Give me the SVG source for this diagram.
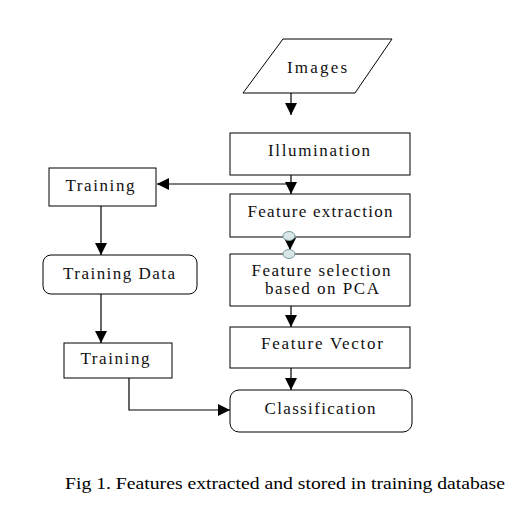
<svg xmlns="http://www.w3.org/2000/svg" width="516" height="519" viewBox="0 0 516 519">
<defs>
<style>
.box{fill:#fff;stroke:#000;stroke-width:1}
.t{font-family:"Liberation Serif","Times New Roman","DejaVu Serif",serif;font-size:17px;fill:#111;text-anchor:middle}
.c{fill:none;stroke:#000;stroke-width:1.2}
.knob{fill:#d8e6e8;stroke:#7a9aa0;stroke-width:1}
</style>
<marker id="ah" markerUnits="userSpaceOnUse" markerWidth="12" markerHeight="12" viewBox="0 0 10 10" refX="10" refY="5" orient="auto">
<path d="M0,0 L10,5 L0,10 z" fill="#000"/>
</marker>
</defs>
<rect width="516" height="519" fill="#fff"/>
<g id="connectors">
<line class="c" x1="291" y1="93" x2="291" y2="115" marker-end="url(#ah)"/>
<line class="c" x1="291" y1="175" x2="291" y2="194" marker-end="url(#ah)"/>
<polyline class="c" points="291,184 157,184" marker-end="url(#ah)"/>
<line class="c" x1="290" y1="237" x2="290" y2="250" marker-end="url(#ah)"/>
<line class="c" x1="291" y1="306" x2="291" y2="327" marker-end="url(#ah)"/>
<line class="c" x1="291" y1="368" x2="291" y2="390" marker-end="url(#ah)"/>
<line class="c" x1="101" y1="206" x2="101" y2="255" marker-end="url(#ah)"/>
<line class="c" x1="101" y1="294" x2="101" y2="343" marker-end="url(#ah)"/>
<polyline class="c" points="129,378 129,410 230,410" marker-end="url(#ah)"/>
</g>
<g id="images">
<polygon class="box" points="283,39 392,39 355,93 243,93"/>
<text class="t" x="317" y="73" textLength="60" lengthAdjust="spacing">Images</text>
</g>
<g id="illumination">
<rect class="box" x="230" y="133" width="180" height="42"/>
<text class="t" x="319" y="156" textLength="102" lengthAdjust="spacing">Illumination</text>
</g>
<g id="feature-extraction">
<rect class="box" x="230" y="194" width="180" height="43"/>
<text class="t" x="320" y="217" textLength="145" lengthAdjust="spacing">Feature extraction</text>
</g>
<g id="feature-selection">
<rect class="box" x="230" y="254" width="180" height="52"/>
<text class="t" x="321" y="276" textLength="139" lengthAdjust="spacing">Feature selection</text>
<text class="t" x="322" y="294" textLength="114" lengthAdjust="spacing">based on PCA</text>
</g>
<g id="knobs">
<ellipse class="knob" cx="289" cy="236" rx="6" ry="4.5"/>
<ellipse class="knob" cx="289" cy="254" rx="6" ry="4.5"/>
</g>
<g id="feature-vector">
<rect class="box" x="230" y="327" width="180" height="41"/>
<text class="t" x="322" y="349" textLength="122" lengthAdjust="spacing">Feature Vector</text>
</g>
<g id="classification">
<rect class="box" x="230" y="390" width="182" height="42" rx="9"/>
<text class="t" x="320" y="414" textLength="111" lengthAdjust="spacing">Classification</text>
</g>
<g id="training1">
<rect class="box" x="49" y="168" width="107" height="38"/>
<text class="t" x="100" y="191" textLength="69" lengthAdjust="spacing">Training</text>
</g>
<g id="training-data">
<rect class="box" x="43" y="255" width="154" height="39" rx="8"/>
<text class="t" x="119" y="279" textLength="112" lengthAdjust="spacing">Training Data</text>
</g>
<g id="training2">
<rect class="box" x="64" y="343" width="108" height="35"/>
<text class="t" x="115" y="364" textLength="69" lengthAdjust="spacing">Training</text>
</g>
<text x="285" y="489" font-family="'Liberation Serif','Times New Roman',serif" font-size="17.5" fill="#000" text-anchor="middle" textLength="440" lengthAdjust="spacingAndGlyphs">Fig 1. Features extracted and stored in training database</text>
</svg>
